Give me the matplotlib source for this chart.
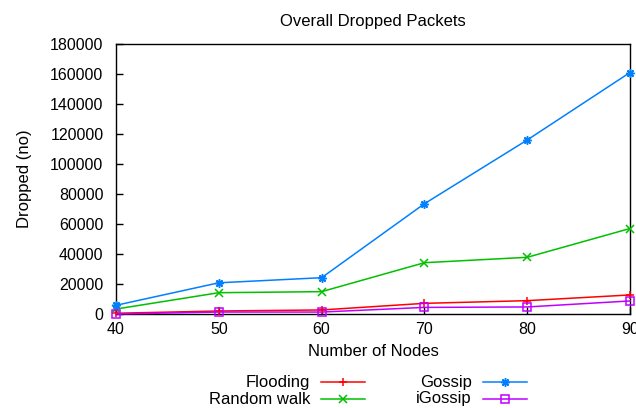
import matplotlib as mpl
mpl.use("Agg")
import matplotlib.pyplot as plt
from matplotlib.lines import Line2D

nodes = [40, 50, 60, 70, 80, 90]
flooding = [500, 2000, 2700, 7100, 8900, 12700]
random_walk = [3300, 14200, 14900, 34200, 37800, 57000]
gossip = [5800, 20800, 24200, 73500, 116000, 161000]
igossip = [0, 1300, 1300, 4400, 4700, 8700]

series = [
    ("Flooding", flooding, "#ff0000", "+"),
    ("Random walk", random_walk, "#00c000", "x"),
    ("Gossip", gossip, "#0080ff", (8, 2, 0)),
    ("iGossip", igossip, "#c000ff", "s"),
]

plt.rcParams.update({
    "font.family": ["Liberation Sans", "DejaVu Sans"],
    "font.size": 11.5,
    "axes.linewidth": 1.0,
})

fig = plt.figure(figsize=(6.36, 4.08), dpi=100)
ax = fig.add_axes([116 / 636, 1 - 314 / 408, (630 - 116) / 636, (314 - 44) / 408])

for name, vals, color, marker in series:
    ax.plot(nodes, vals, color=color, lw=1.1, marker=marker, markersize=6,
            markerfacecolor="none", markeredgecolor=color, markeredgewidth=1.1,
            clip_on=False, zorder=3)

ax.set_xlim(40, 90)
ax.set_ylim(0, 180000)
ax.set_xticks(range(40, 91, 10))
ax.set_yticks(range(0, 180001, 20000))
ax.tick_params(direction="in", length=5, width=1, top=False, right=False,
               labelsize=11.5)
ax.tick_params(axis="y", pad=9)
ax.tick_params(axis="x", pad=6)
ax.set_xlabel("Number of Nodes", fontsize=12, labelpad=5)
ax.set_ylabel("Dropped (no)", fontsize=12, labelpad=13)
ax.set_title("Overall Dropped Packets", fontsize=12, pad=13)

# legend drawn in gnuplot style: right-aligned text, then the sample line
cols = [(310, 321, 365), (472, 483, 527)]
rows = [382, 399]
for i, (name, vals, color, marker) in enumerate(series):
    tx, l0, l1 = cols[i // 2]
    y = 1 - rows[i % 2] / 408
    fig.text(tx / 636, y, name, ha="right", va="center", fontsize=12)
    fig.add_artist(Line2D([l0 / 636, l1 / 636], [y, y], color=color, lw=1.1))
    fig.add_artist(Line2D([(l0 + l1) / 2 / 636], [y], color=color, marker=marker,
                          markersize=6, markerfacecolor="none",
                          markeredgecolor=color, markeredgewidth=1.1))

fig.savefig("out.png", dpi=100)
